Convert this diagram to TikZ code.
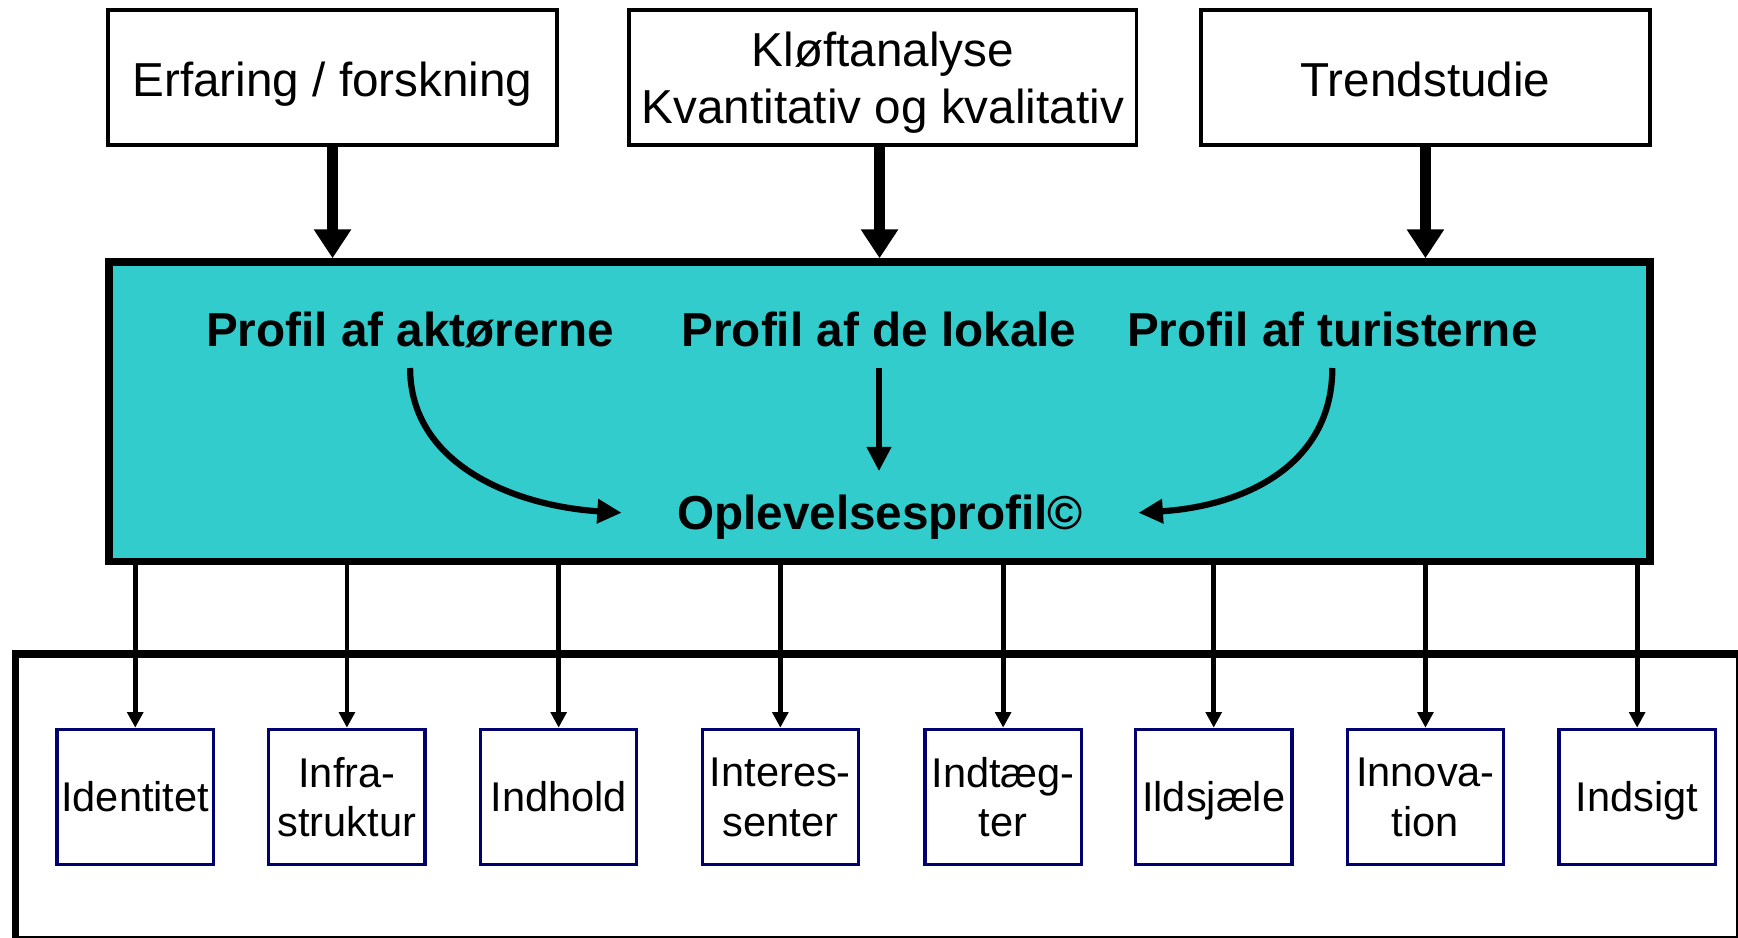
\documentclass[tikz,border=0pt]{standalone}
\usepackage{fontspec}
\setmainfont{Liberation Sans}
\usetikzlibrary{arrows.meta}
\definecolor{tealfill}{RGB}{51,204,204}
\definecolor{navyline}{RGB}{0,0,110}

\begin{document}
\begin{tikzpicture}[x=0.5pt,y=-0.5pt,
  srcbox/.style={draw, line width=1.6pt, minimum height=61pt, inner sep=0pt,
    text depth=0pt, align=center, font=\fontsize{21.5}{25.5}\selectfont},
  capline/.style={text height=17.4pt},
  hubbox/.style={draw, line width=3.5pt, fill=tealfill, minimum width=695pt,
    minimum height=135pt, inner sep=0pt},
  proflabel/.style={inner sep=0pt, outer sep=0pt, anchor=base, text height=15.4pt,
    text depth=0pt, font=\bfseries\fontsize{21.5}{25.5}\selectfont},
  itembox/.style={draw=navyline, line width=1.5pt, minimum width=70.5pt,
    minimum height=61pt, inner sep=0pt, align=center,
    font=\fontsize{18.75}{22.5}\selectfont},
  oneline/.style={text height=13.4pt, text depth=0pt},
  twoline/.style={text depth=-2pt},
  feed/.style={line width=5pt, -{Triangle[width=16pt,length=13pt]}},
  inner/.style={line width=2.8pt, -{Triangle[width=10.5pt,length=11pt]}},
  spoke/.style={line width=2.2pt, -{Triangle[width=7pt,length=7pt]}},
]
\useasboundingbox (0,0) rectangle (1568,846);

% outer frame round the result boxes
\draw[line width=1pt] (14,590) rectangle (1567,845);
\draw[line width=3.4pt] (14,846) -- (14,590) -- (1568,590);

% source boxes
\node[srcbox, capline, minimum width=202.5pt] (erf) at (300,70) {Erfaring / forskning};
\node[srcbox, minimum width=229pt] (klo) at (796.5,70) {Kløftanalyse\\Kvantitativ og kvalitativ};
\node[srcbox, capline, minimum width=202.5pt] (trend) at (1286,70) {Trendstudie};

% central profile box
\node[hubbox] (hub) at (793.5,371.5) {};
\node[proflabel] (akt) at (370,313) {Profil af aktørerne};
\node[proflabel] (lok) at (793,313) {Profil af de lokale};
\node[proflabel] (tur) at (1202,313) {Profil af turisterne};
\node[proflabel] (ople) at (794,478) {Oplevelsesprofil©};

% inputs into the central box
\draw[feed] (erf.south) -- (erf.south |- hub.north);
\draw[feed] (klo.south -| hub.north) -- (hub.north);
\draw[feed] (trend.south) -- (trend.south |- hub.north);

% arrows inside the central box
\draw[inner] ([yshift=-9.5pt]akt.south) .. controls +(0,88) and +(-95,-6) .. ([xshift=-25pt]ople.west);
\draw[inner] ([yshift=-9.5pt]lok.south) -- ([yshift=11pt]lok.south |- ople.north);
\draw[inner] ([yshift=-9.5pt]tur.south) .. controls +(0,88) and +(95,-6) .. ([xshift=25pt]ople.east);

% result boxes
\node[itembox, oneline] (i1) at (122,719) {Identitet};
\node[itembox, twoline] (i2) at (313,719) {Infra-\\struktur};
\node[itembox, oneline] (i3) at (504,719) {Indhold};
\node[itembox, twoline] (i4) at (704,719) {Interes-\\senter};
\node[itembox, twoline] (i5) at (905,719) {Indtæg-\\ter};
\node[itembox, oneline] (i6) at (1095,719) {Ildsjæle};
\node[itembox, twoline] (i7) at (1286,719) {Innova-\\tion};
\node[itembox, oneline] (i8) at (1477,719) {Indsigt};

\foreach \i in {i1,i2,i3,i4,i5,i6,i7,i8}
  \draw[spoke] (hub.south -| \i.north) -- (\i.north);
\end{tikzpicture}
\end{document}
